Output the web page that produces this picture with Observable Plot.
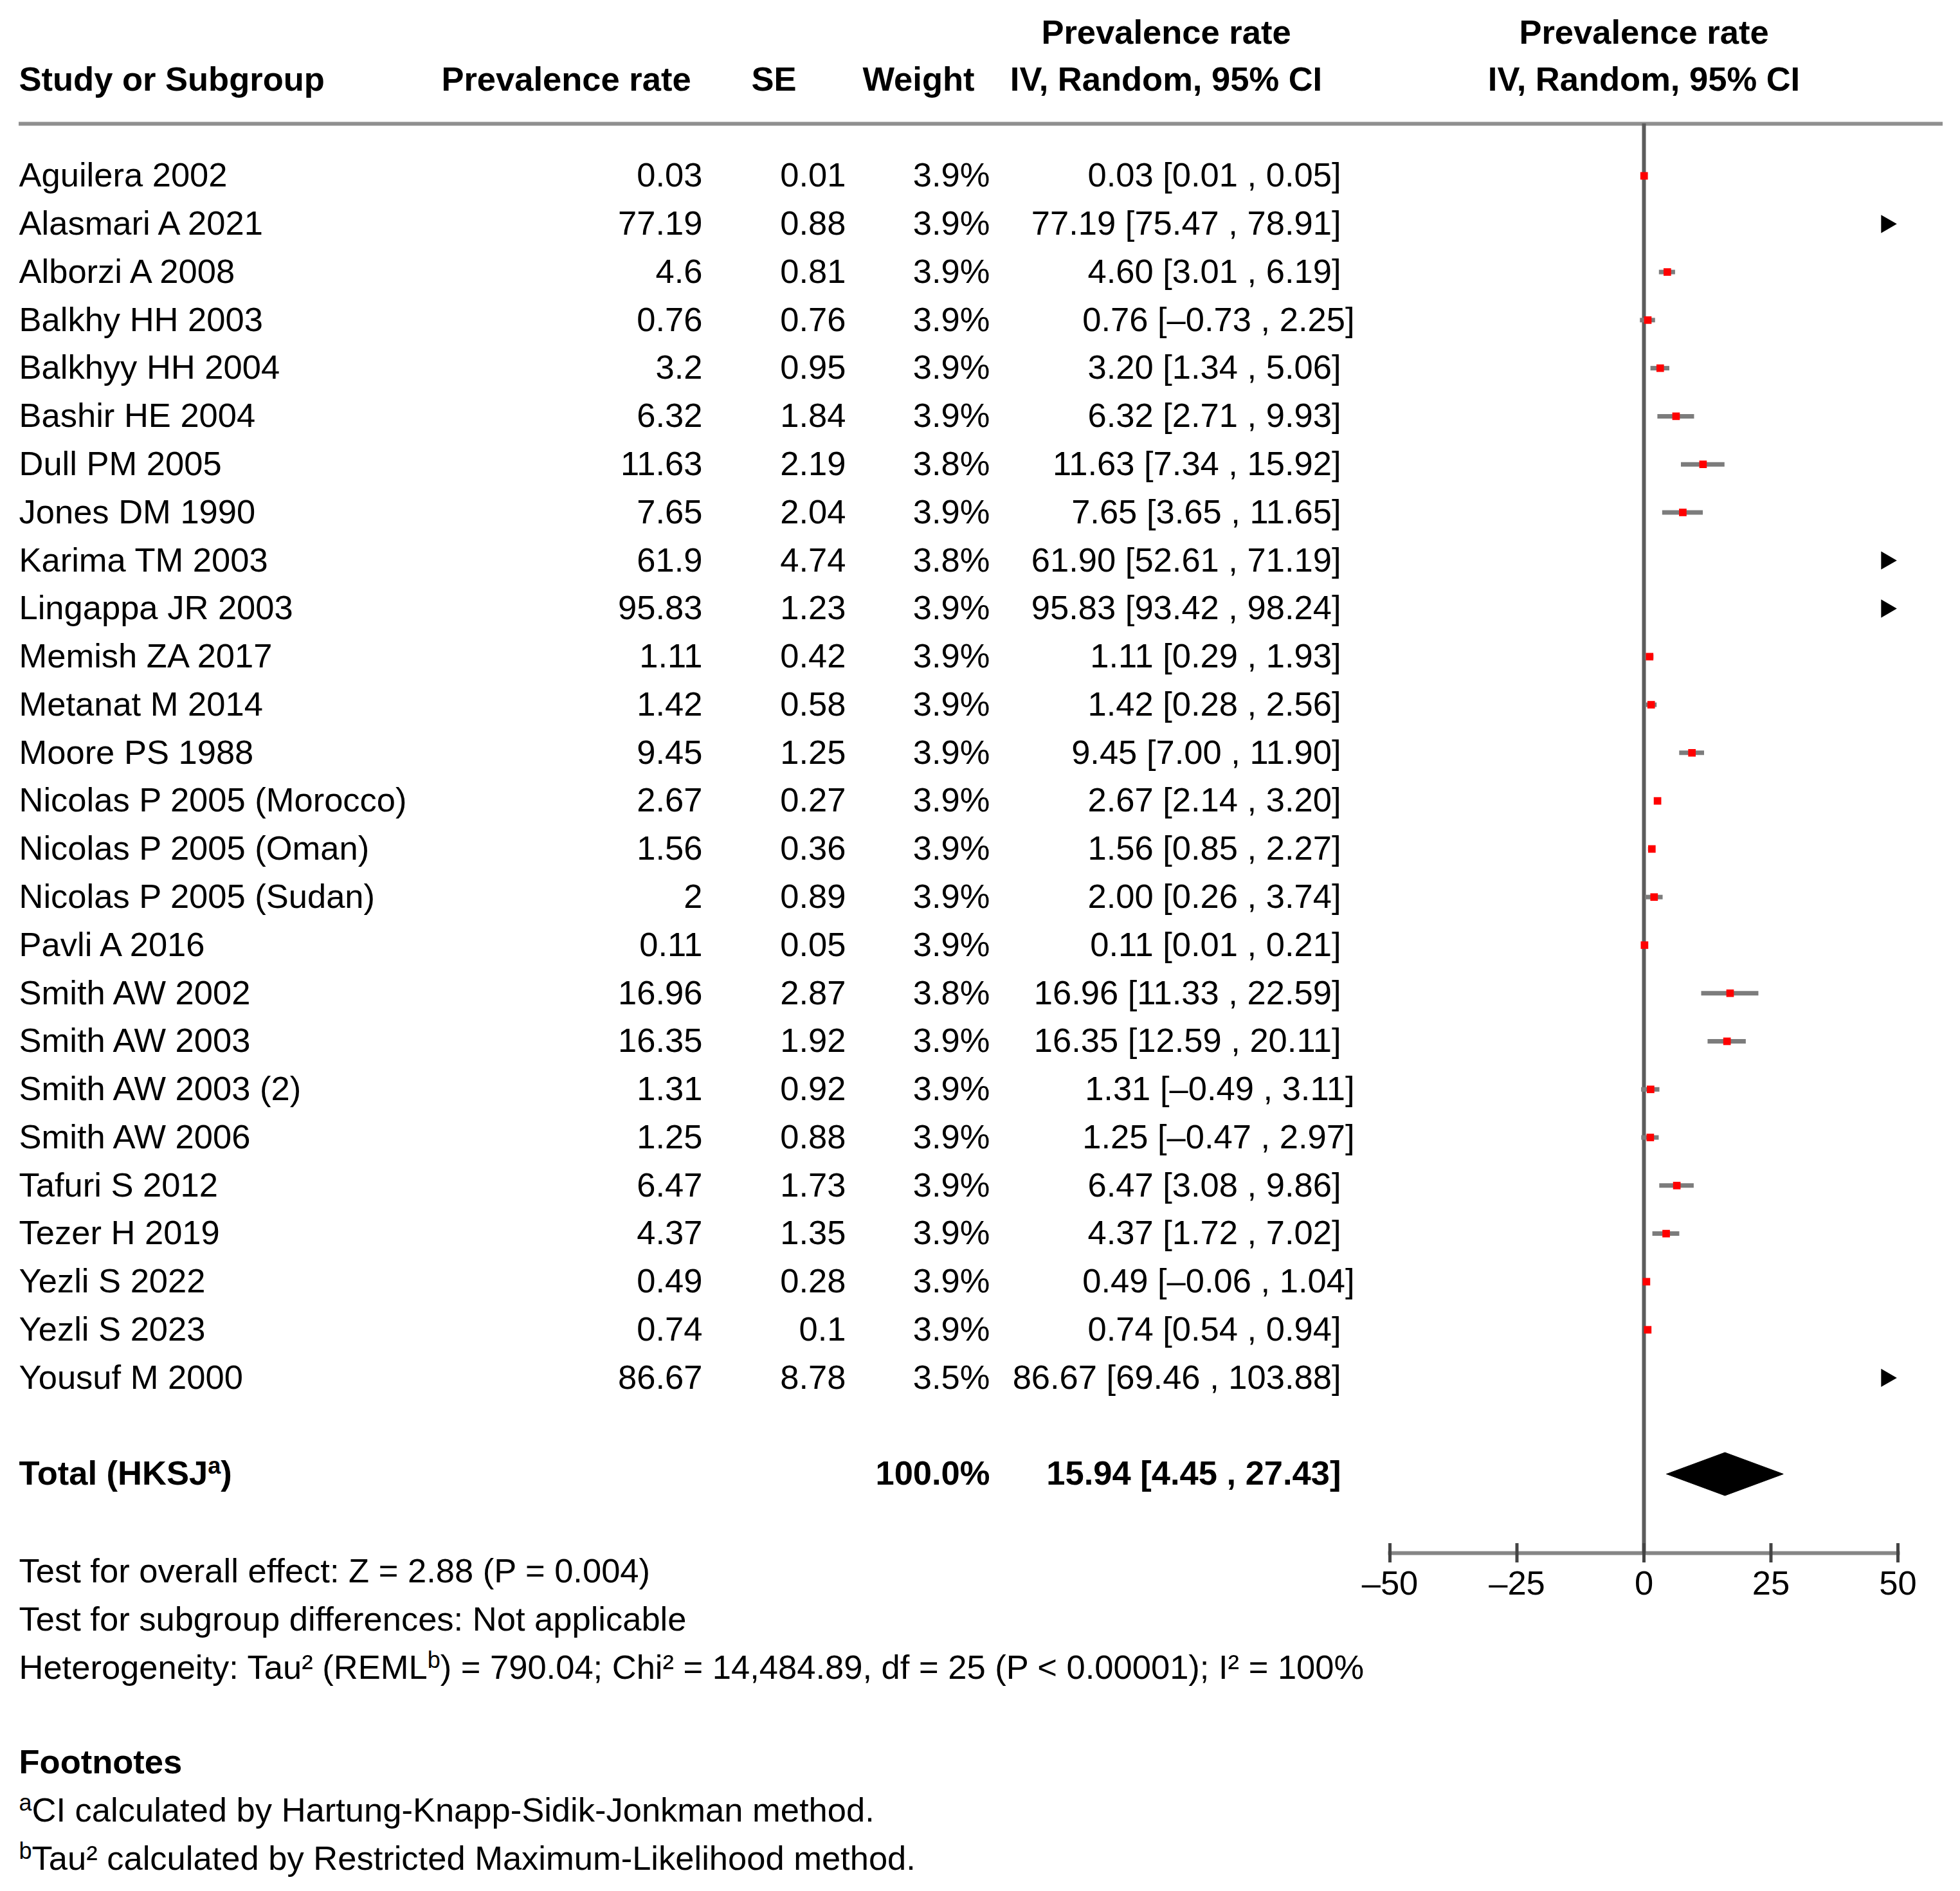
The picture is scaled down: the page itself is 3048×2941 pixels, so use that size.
<!DOCTYPE html>
<html>
<head>
<meta charset="utf-8">
<script src="https://cdn.jsdelivr.net/npm/d3@7"></script>
<script src="https://cdn.jsdelivr.net/npm/@observablehq/plot@0.6"></script>
<style>
html, body { margin: 0; padding: 0; background: #ffffff; }
#chart svg { display: block; }
</style>
</head>
<body>
<div id="chart"></div>
<script>
// ---------------- data ----------------
const studies = [
  "Aguilera 2002", "Alasmari A 2021", "Alborzi A 2008", "Balkhy HH 2003", "Balkhyy HH 2004",
  "Bashir HE 2004", "Dull PM 2005", "Jones DM 1990", "Karima TM 2003", "Lingappa JR 2003",
  "Memish ZA 2017", "Metanat M 2014", "Moore PS 1988", "Nicolas P 2005 (Morocco)",
  "Nicolas P 2005 (Oman)", "Nicolas P 2005 (Sudan)", "Pavli A 2016", "Smith AW 2002",
  "Smith AW 2003", "Smith AW 2003 (2)", "Smith AW 2006", "Tafuri S 2012", "Tezer H 2019",
  "Yezli S 2022", "Yezli S 2023", "Yousuf M 2000"
];
const prevalence = [0.03, 77.19, 4.6, 0.76, 3.2, 6.32, 11.63, 7.65, 61.9, 95.83, 1.11, 1.42, 9.45,
  2.67, 1.56, 2, 0.11, 16.96, 16.35, 1.31, 1.25, 6.47, 4.37, 0.49, 0.74, 86.67];
const se = [0.01, 0.88, 0.81, 0.76, 0.95, 1.84, 2.19, 2.04, 4.74, 1.23, 0.42, 0.58, 1.25,
  0.27, 0.36, 0.89, 0.05, 2.87, 1.92, 0.92, 0.88, 1.73, 1.35, 0.28, 0.1, 8.78];
const weight = ["3.9%", "3.9%", "3.9%", "3.9%", "3.9%", "3.9%", "3.8%", "3.9%", "3.8%", "3.9%",
  "3.9%", "3.9%", "3.9%", "3.9%", "3.9%", "3.9%", "3.9%", "3.8%", "3.9%", "3.9%", "3.9%",
  "3.9%", "3.9%", "3.9%", "3.9%", "3.5%"];
const lower = [0.01, 75.47, 3.01, -0.73, 1.34, 2.71, 7.34, 3.65, 52.61, 93.42, 0.29, 0.28, 7.00,
  2.14, 0.85, 0.26, 0.01, 11.33, 12.59, -0.49, -0.47, 3.08, 1.72, -0.06, 0.54, 69.46];
const upper = [0.05, 78.91, 6.19, 2.25, 5.06, 9.93, 15.92, 11.65, 71.19, 98.24, 1.93, 2.56, 11.90,
  3.20, 2.27, 3.74, 0.21, 22.59, 20.11, 3.11, 2.97, 9.86, 7.02, 1.04, 0.94, 103.88];

const totalLabel = "Total (HKSJ\u1D43)";
const totalWeight = "100.0%";
const totalEstimate = 15.94;
const totalLower = 4.45;
const totalUpper = 27.43;

const xDomain = [-50, 50];
const xTicks = [-50, -25, 0, 25, 50];

const headerCols = ["Study or Subgroup", "Prevalence rate", "SE", "Weight"];
const headerCI = ["Prevalence rate", "IV, Random, 95% CI"];
const statsLines = [
  "Test for overall effect: Z = 2.88 (P = 0.004)",
  "Test for subgroup differences: Not applicable",
  "Heterogeneity: Tau\u00B2 (REML\u1D47) = 790.04; Chi\u00B2 = 14,484.89, df = 25 (P < 0.00001); I\u00B2 = 100%"
];
const footnoteTitle = "Footnotes";
const footnotes = [
  "\u1D43CI calculated by Hartung-Knapp-Sidik-Jonkman method.",
  "\u1D47Tau\u00B2 calculated by Restricted Maximum-Likelihood method."
];

// ---------------- layout ----------------
const W = 3048, H = 2941;
const FONT = "'Liberation Sans', Arial, Helvetica, sans-serif";
const FS = 52.5;
const ML = 2161, MR = 97, MT = 273;
const FRAME_BOTTOM = 2415;
const MB = H - FRAME_BOTTOM;
const INSET_B = 123;
const ROW = (FRAME_BOTTOM - INSET_B - MT) / (studies.length + 1);
const FRAME_H = FRAME_BOTTOM - MT;

const dash = v => (v < 0 ? "\u2013" : "") + Math.abs(v).toFixed(2);
const ciText = (e, l, u) => `${dash(e)} [${dash(l)} , ${dash(u)}]`;

const rows = studies.map((name, i) => ({
  name, i,
  prev: prevalence[i], se: se[i], weight: weight[i], lo: lower[i], hi: upper[i],
  ci: ciText(prevalence[i], lower[i], upper[i])
}));
const totalIdx = studies.length + 1;
const total = {i: totalIdx, label: totalLabel, weight: totalWeight,
  ci: ciText(totalEstimate, totalLower, totalUpper)};

const dH = 33.5 / ROW;
const diamond = [
  {x: totalLower, y: totalIdx},
  {x: totalEstimate, y: totalIdx - dH},
  {x: totalUpper, y: totalIdx},
  {x: totalEstimate, y: totalIdx + dH},
  {x: totalLower, y: totalIdx}
];

const base = {fontFamily: FONT, fontSize: FS, fill: "#000", lineAnchor: "middle"};
const colX = {name: 29, prev: 1092, se: 1315, weight: 1539, ci: 2085, ciNeg: 2106};

const inRange = rows.filter(d => d.lo < xDomain[1]);
const beyond = rows.filter(d => d.hi > xDomain[1]);

const statsMarks = statsLines.map((t, k) =>
  Plot.text([t], {frameAnchor: "bottom-left", dx: colX.name - ML, dy: 2444 - FRAME_BOTTOM + k * ROW, textAnchor: "start", ...base}));
const footMarks = footnotes.map((t, k) =>
  Plot.text([t], {frameAnchor: "bottom-left", dx: colX.name - ML, dy: 2816 - FRAME_BOTTOM + k * ROW, textAnchor: "start", ...base}));

const chart = Plot.plot({
  width: W, height: H,
  marginLeft: ML, marginRight: MR, marginTop: MT, marginBottom: MB,
  x: {domain: xDomain, axis: null},
  y: {domain: [0, totalIdx], reverse: true, insetBottom: INSET_B, axis: null},
  style: {fontFamily: FONT, background: "#fff", overflow: "visible"},
  marks: [
    // header rule
    Plot.ruleY([0], {dy: -(MT - 192), insetLeft: -(ML - 29), insetRight: -(3021 - (W - MR)), stroke: "#8f8f8f", strokeWidth: 6}),
    // axis line
    Plot.frame({anchor: "bottom", stroke: "#858585", strokeWidth: 6}),
    // zero line
    Plot.ruleX([0], {insetTop: -(MT - 192), stroke: "#5c5c5c", strokeWidth: 6}),
    // axis ticks
    Plot.ruleX(xTicks, {insetTop: FRAME_H - 15, insetBottom: -15, stroke: "#444", strokeWidth: 5}),
    Plot.text(xTicks, {x: d => d, text: d => (d < 0 ? "\u2013" + (-d) : String(d)), frameAnchor: "bottom", dy: 2463 - FRAME_BOTTOM, textAnchor: "middle", ...base}),
    // CI lines
    Plot.ruleY(inRange, {y: "i", x1: d => Math.max(d.lo, xDomain[0]), x2: d => Math.min(d.hi, xDomain[1]), stroke: "#7c7c7c", strokeWidth: 7}),
    // point estimates
    Plot.dot(rows.filter(d => d.prev <= xDomain[1]), {x: "prev", y: "i", symbol: "square", r: 6.6, fill: "#ff0000"}),
    // out-of-range arrows
    Plot.dot(beyond, {x: () => xDomain[1], y: "i", symbol: "triangle", rotate: 90, r: 10.5, fill: "#000", dx: -18}),
    // diamond
    Plot.line(diamond, {x: "x", y: "y", fill: "#000", stroke: "#000", strokeWidth: 1}),
    // headers
    Plot.text([headerCols[0]], {frameAnchor: "top-left", dx: colX.name - ML, dy: 124 - MT, textAnchor: "start", fontWeight: "bold", ...base}),
    Plot.text([headerCols[1]], {frameAnchor: "top-left", dx: 880 - ML, dy: 124 - MT, textAnchor: "middle", fontWeight: "bold", ...base}),
    Plot.text([headerCols[2]], {frameAnchor: "top-left", dx: 1203 - ML, dy: 124 - MT, textAnchor: "middle", fontWeight: "bold", ...base}),
    Plot.text([headerCols[3]], {frameAnchor: "top-left", dx: 1428 - ML, dy: 124 - MT, textAnchor: "middle", fontWeight: "bold", ...base}),
    Plot.text([headerCI[0]], {frameAnchor: "top-left", dx: 1813 - ML, dy: 50.5 - MT, textAnchor: "middle", fontWeight: "bold", ...base}),
    Plot.text([headerCI[1]], {frameAnchor: "top-left", dx: 1813 - ML, dy: 124 - MT, textAnchor: "middle", fontWeight: "bold", ...base}),
    Plot.text([0], {x: d => d, text: () => headerCI[0], frameAnchor: "top", dy: 50.5 - MT, textAnchor: "middle", fontWeight: "bold", ...base}),
    Plot.text([0], {x: d => d, text: () => headerCI[1], frameAnchor: "top", dy: 124 - MT, textAnchor: "middle", fontWeight: "bold", ...base}),
    // table body
    Plot.text(rows, {y: "i", text: "name", frameAnchor: "left", dx: colX.name - ML, textAnchor: "start", ...base}),
    Plot.text(rows, {y: "i", text: d => String(d.prev), frameAnchor: "left", dx: colX.prev - ML, textAnchor: "end", ...base}),
    Plot.text(rows, {y: "i", text: d => String(d.se), frameAnchor: "left", dx: colX.se - ML, textAnchor: "end", ...base}),
    Plot.text(rows, {y: "i", text: "weight", frameAnchor: "left", dx: colX.weight - ML, textAnchor: "end", ...base}),
    Plot.text(rows.filter(d => d.lo >= 0), {y: "i", text: "ci", frameAnchor: "left", dx: colX.ci - ML, textAnchor: "end", ...base}),
    Plot.text(rows.filter(d => d.lo < 0), {y: "i", text: "ci", frameAnchor: "left", dx: colX.ciNeg - ML, textAnchor: "end", ...base}),
    // total row
    Plot.text([total], {y: "i", text: "label", frameAnchor: "left", dx: colX.name - ML, textAnchor: "start", fontWeight: "bold", ...base}),
    Plot.text([total], {y: "i", text: "weight", frameAnchor: "left", dx: colX.weight - ML, textAnchor: "end", fontWeight: "bold", ...base}),
    Plot.text([total], {y: "i", text: "ci", frameAnchor: "left", dx: colX.ci - ML, textAnchor: "end", fontWeight: "bold", ...base}),
    // stats & footnotes
    ...statsMarks,
    Plot.text([footnoteTitle], {frameAnchor: "bottom-left", dx: colX.name - ML, dy: 2741 - FRAME_BOTTOM, textAnchor: "start", fontWeight: "bold", ...base}),
    ...footMarks
  ]
});

// render modifier-letter superscripts as true superscript tspans (text stays text)
const SUP = {"\u1D43": "a", "\u1D47": "b"};
const NS = "http://www.w3.org/2000/svg";
chart.querySelectorAll("text").forEach(el => {
  if (el.children.length) return;
  const s = el.textContent;
  if (!/[\u1D43\u1D47]/.test(s)) return;
  el.textContent = "";
  let shifted = false;
  s.split(/([\u1D43\u1D47])/).forEach(part => {
    if (!part) return;
    const t = document.createElementNS(NS, "tspan");
    if (SUP[part]) {
      t.textContent = SUP[part];
      t.setAttribute("font-size", "36");
      t.setAttribute("dy", "-17");
      shifted = true;
    } else {
      t.textContent = part;
      if (shifted) { t.setAttribute("dy", "17"); shifted = false; }
    }
    el.appendChild(t);
  });
});

document.getElementById("chart").appendChild(chart);
</script>
</body>
</html>
